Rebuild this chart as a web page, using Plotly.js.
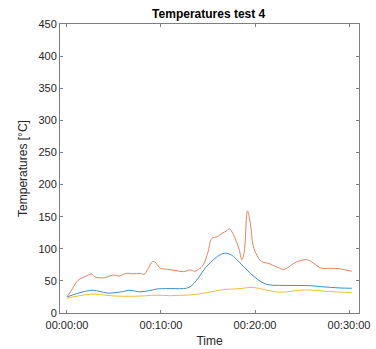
<!DOCTYPE html>
<html>
<head>
<meta charset="utf-8">
<script src="https://cdn.plot.ly/plotly-3.0.1.min.js"></script>
<style>html,body{margin:0;padding:0;background:#fff;}#chart{width:376px;height:349px;}</style>
</head>
<body>
<div id="chart"></div>
<script>
// time in minutes
const redT = [0,0.6,1.0,1.4,2.0,2.6,3.0,4.0,4.9,5.6,6.3,7.0,7.8,8.2,8.6,9.1,9.4,9.9,10.7,11.6,12.4,13.1,13.6,14.0,14.5,15.0,15.4,16.0,16.5,17.0,17.3,17.7,18.3,18.6,18.85,19.1,19.2,19.5,19.8,20.2,20.7,21.5,22.4,23.1,24.0,24.5,25.5,26.2,27.0,28.0,29.0,29.6,30.3];
const redV = [25,38,48,53,57,60.7,56,55,59,57.6,61.8,61,61.8,60,68,80,79,70,68,66,64.4,67,65,68,75,95,116,119,124,128,131,122,100,83,95,150,159,140,105,90,80,77,71,68,76,80,83,78,70,69.6,69,67,65];
const blueT = [0,1.0,2.0,2.8,3.5,4.3,5.0,6.0,6.6,7.8,8.8,9.6,10.5,11.5,12.4,13.0,13.5,14.0,14.7,15.3,16.0,16.7,17.4,18.0,18.8,19.5,20.3,21.0,21.6,23.0,25.0,26.0,27.0,28.0,29.0,30.3];
const blueV = [25,30,34,35.5,33.5,31,31.5,33.5,35.5,33,35,37.5,38,38,38,40,46,55,70,79,88,93,91,84,72,62,52,46,43.6,43,42.8,42.5,41,40,39,38.5];
const yelT = [0,1.0,2.0,3.0,4.0,5.0,6.0,7.0,8.0,9.0,10.0,11.0,12.0,13.0,14.0,15.0,16.0,17.0,18.0,19.0,19.7,20.5,21.5,22.5,23.5,24.5,25.5,26.5,27.5,28.5,30.3];
const yelV = [23,26,28.5,29.5,28,26.5,26,26,26.5,27.5,27.5,27,27.5,28,29.5,32,35,37,37.5,39,40,38,35,32.5,33,35,36,35,34,33,31.6];
const xTickVals = [0,10,20,30];
const xTickText = ['00:00:00','00:10:00','00:20:00','00:30:00'];
const yTickVals = [0,50,100,150,200,250,300,350,400,450];

const font = {family:'"Liberation Sans", Arial, sans-serif', color:'#262626'};
const traces = [
  {x: blueT, y: blueV, mode:'lines', line:{color:'#3d8fca', width:1, shape:'spline'}},
  {x: redT, y: redV, mode:'lines', line:{color:'#e2845c', width:1, shape:'spline'}},
  {x: yelT, y: yelV, mode:'lines', line:{color:'#efbd40', width:1, shape:'spline'}}
];
const axisCommon = {showgrid:false, zeroline:false, showline:true, linecolor:'#7f7f7f', linewidth:1,
  mirror:'ticks', ticks:'inside', ticklen:3, tickcolor:'#7f7f7f', tickfont:{...font, size:11}};
const layout = {
  width:376, height:349, showlegend:false,
  paper_bgcolor:'#fff', plot_bgcolor:'#fff',
  margin:{l:60, r:17, t:24, b:36},
  font: font,
  title:{text:'<b>Temperatures test 4</b>', font:{...font, size:12, color:'#000'}, x:0.555, xanchor:'center', y:0.96, yanchor:'middle'},
  xaxis:{...axisCommon, range:[-0.74,31.06], tickvals:xTickVals, ticktext:xTickText, ticklabelstandoff:2,
    title:{text:'Time', font:{...font, size:12}, standoff:6}},
  yaxis:{...axisCommon, range:[0,450], tickvals:yTickVals,
    title:{text:'Temperatures [°C]', font:{...font, size:12}, standoff:8}}
};
Plotly.newPlot('chart', traces, layout, {displayModeBar:false, staticPlot:true});
</script>
</body>
</html>
